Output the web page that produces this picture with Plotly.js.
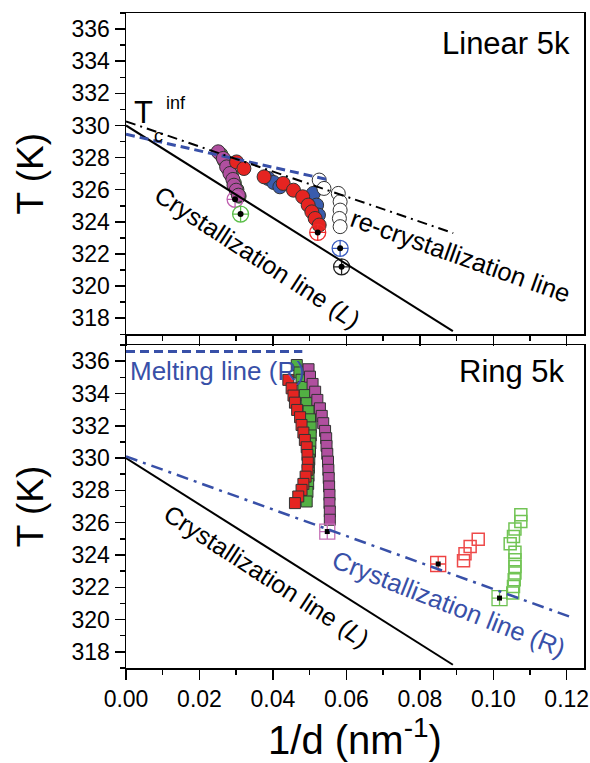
<!DOCTYPE html>
<html>
<head>
<meta charset="utf-8">
<script src="https://cdn.plot.ly/plotly-3.0.1.min.js"></script>
<style>html,body{margin:0;padding:0;background:#fff;}#chart{width:590px;height:763px;}</style>
</head>
<body>
<div id="chart"></div>
<script>
// ---------- Linear 5k (top panel) ----------
const linGreenX = [0.0258, 0.0268, 0.0278, 0.0287, 0.0295, 0.0302, 0.0308];
const linGreenT = [328.2, 327.8, 327.3, 326.9, 326.4, 326.0, 325.6];
const linMagX = [0.0251, 0.0265, 0.0274, 0.0283, 0.0291, 0.0294, 0.0300, 0.0306];
const linMagT = [328.36, 327.95, 327.42, 327.01, 326.64, 326.28, 325.97, 325.66];
const linBlueX = [0.0387, 0.0402, 0.0419, 0.0510, 0.0519, 0.0524];
const linBlueT = [326.70, 326.45, 326.18, 325.77, 325.04, 324.42];
const linRedX = [0.0301, 0.0321, 0.0376, 0.0428, 0.0456, 0.0481, 0.0496, 0.0506, 0.0515, 0.0526];
const linRedT = [327.73, 327.32, 326.80, 326.39, 325.97, 325.56, 325.04, 324.62, 324.21, 323.80];
const linWhiteX = [0.0526, 0.0539, 0.0578, 0.0583, 0.0583, 0.0581, 0.0583];
const linWhiteT = [326.60, 326.08, 325.77, 325.25, 324.73, 324.21, 323.70];
const linEndX = [0.0297, 0.0312, 0.0522, 0.0583, 0.0587];
const linEndT = [325.40, 324.48, 323.34, 322.35, 321.20];
const linEndColors = ['#c060b0', '#5cbf4a', '#ee2a2a', '#3a5cc0', '#222222'];

// ---------- Ring 5k (bottom panel) ----------
const ringGreenX = [0.0465, 0.0472, 0.0478, 0.0483, 0.0487, 0.0492, 0.0497, 0.0501, 0.0503, 0.0503, 0.0502, 0.0501, 0.0499, 0.0498, 0.0497, 0.0496, 0.0494, 0.0492];
const ringGreenT = [335.76, 335.30, 334.85, 334.40, 333.90, 333.40, 332.90, 332.40, 331.90, 331.40, 330.90, 330.40, 329.90, 329.40, 328.90, 328.40, 327.90, 327.31];
const ringRedX = [0.0442, 0.0451, 0.0456, 0.0460, 0.0466, 0.0474, 0.0478, 0.0483, 0.0487, 0.0492, 0.0494, 0.0495, 0.0494, 0.0489, 0.0483, 0.0478, 0.0469, 0.0460];
const ringRedT = [334.84, 334.32, 333.87, 333.43, 332.98, 332.53, 332.05, 331.58, 331.12, 330.67, 330.19, 329.72, 329.27, 328.85, 328.40, 328.03, 327.62, 327.21];
const ringMagX = [0.0497, 0.0501, 0.0508, 0.0515, 0.0521, 0.0528, 0.0533, 0.0537, 0.0542, 0.0545, 0.0546, 0.0548, 0.0550, 0.0551, 0.0552, 0.0553, 0.0554, 0.0554, 0.0555, 0.0555];
const ringMagT = [335.50, 335.04, 334.59, 334.11, 333.60, 333.08, 332.61, 332.16, 331.68, 331.23, 330.75, 330.26, 329.78, 329.27, 328.76, 328.24, 327.72, 327.21, 326.69, 326.18];
const ringRedOpenX = [0.0919, 0.0923, 0.0937, 0.0959];
const ringRedOpenT = [323.64, 324.07, 324.53, 324.98];
const ringGreenOpenX = [0.1053, 0.1055, 0.1057, 0.1059, 0.1059, 0.1059, 0.1059, 0.1046, 0.1055, 0.1059, 0.1075, 0.1075];
const ringGreenOpenT = [321.64, 322.05, 322.47, 322.88, 323.29, 323.70, 324.16, 324.69, 325.14, 325.60, 326.07, 326.49];
const ringEndX = [0.0548, 0.0850, 0.1017];
const ringEndT = [325.45, 323.44, 321.33];
const ringEndColors = ['#c46fb5', '#ee4040', '#6cc050'];

// ---------- Lines ----------
const crystLX = [0, 0.089];
const crystLT = [330.0, 317.2];
const meltLinX = [0, 0.0555];
const meltLinT = [329.45, 326.6];
const recrystX = [0, 0.0891];
const recrystT = [330.25, 323.3];
const meltRingX = [0, 0.048];
const meltRingT = [336.6, 336.6];
const crystRX = [0, 0.1218];
const crystRT = [330.1, 320.1];

const FONT = 'Liberation Sans, Arial, sans-serif';
const LBLUE = '#3850a8';
const OUT = '#333333';

function filled(x, y, color, sym, size, xa, ya) {
  return {x: x, y: y, xaxis: xa, yaxis: ya, type: 'scatter', mode: 'markers', hoverinfo: 'skip',
    marker: {symbol: sym, size: size, color: color, line: {color: OUT, width: 1}}};
}
function openM(x, y, color, sym, size, xa, ya) {
  return {x: x, y: y, xaxis: xa, yaxis: ya, type: 'scatter', mode: 'markers', hoverinfo: 'skip',
    marker: {symbol: sym, size: size, color: color, line: {color: color, width: 1.5}}};
}
function line(x, y, color, width, dash, xa, ya) {
  return {x: x, y: y, xaxis: xa, yaxis: ya, type: 'scatter', mode: 'lines', hoverinfo: 'skip',
    line: {color: color, width: width, dash: dash}};
}

const traces = [
  // top panel markers
  filled(linGreenX, linGreenT, '#5cb848', 'circle', 14, 'x2', 'y2'),
  {x: [linMagX[0], linEndX[0]], y: [linMagT[0], linEndT[0]], xaxis: 'x2', yaxis: 'y2', mode: 'lines', hoverinfo: 'skip', line: {color: '#e04a8a', width: 1}},
  filled(linMagX, linMagT, '#b04f9f', 'circle', 14, 'x2', 'y2'),
  filled(linBlueX, linBlueT, '#3a5cad', 'circle', 14, 'x2', 'y2'),
  filled(linRedX, linRedT, '#e52421', 'circle', 14, 'x2', 'y2'),
  filled(linWhiteX, linWhiteT, '#ffffff', 'circle', 14, 'x2', 'y2'),
  {x: linEndX, y: linEndT, xaxis: 'x2', yaxis: 'y2', mode: 'markers', hoverinfo: 'skip',
    marker: {symbol: 'circle-cross-open', size: 16, color: linEndColors, line: {color: linEndColors, width: 1.3}}},
  {x: linEndX, y: linEndT, xaxis: 'x2', yaxis: 'y2', mode: 'markers', hoverinfo: 'skip',
    marker: {symbol: 'circle', size: 6, color: '#000000'}},
  // top panel lines
  line(crystLX, crystLT, '#000000', 2, 'solid', 'x2', 'y2'),
  line(meltLinX, meltLinT, LBLUE, 3, '9px,5px', 'x2', 'y2'),
  line(recrystX, recrystT, '#000000', 2, '10px,5px,2px,5px', 'x2', 'y2'),

  // bottom panel markers
  filled(ringGreenX, ringGreenT, '#52b043', 'square', 11, 'x', 'y'),
  filled(ringRedX, ringRedT, '#e52421', 'square', 11, 'x', 'y'),
  filled(ringMagX, ringMagT, '#b04f9f', 'square', 11, 'x', 'y'),
  openM(ringRedOpenX, ringRedOpenT, '#ee4a4a', 'square-open', 12, 'x', 'y'),
  openM(ringGreenOpenX, ringGreenOpenT, '#72c455', 'square-open', 12, 'x', 'y'),
  {x: ringEndX, y: ringEndT, xaxis: 'x', yaxis: 'y', mode: 'markers', hoverinfo: 'skip',
    marker: {symbol: 'square-cross-open', size: 15, color: ringEndColors, line: {color: ringEndColors, width: 1.3}}},
  {x: ringEndX, y: ringEndT, xaxis: 'x', yaxis: 'y', mode: 'markers', hoverinfo: 'skip',
    marker: {symbol: 'square', size: 5, color: '#000000'}},
  // bottom panel lines
  line(crystLX, crystLT, '#000000', 2, 'solid', 'x', 'y'),
  line(meltRingX, meltRingT, LBLUE, 3, '9px,5px', 'x', 'y'),
  line(crystRX, crystRT, LBLUE, 2.5, '12px,6px,3px,6px', 'x', 'y')
];

const xCommon = {
  range: [0, 0.1247], dtick: 0.02, tick0: 0, tickformat: '.2f',
  ticks: 'outside', ticklen: 10, tickwidth: 1.5, tickcolor: '#000',
  minor: {dtick: 0.01, ticks: 'outside', ticklen: 5, tickwidth: 1.5, tickcolor: '#000', showgrid: false},
  showline: true, linewidth: 1.5, linecolor: '#000', mirror: true,
  showgrid: false, zeroline: false, fixedrange: true
};
const yCommon = {
  range: [317, 337], dtick: 2, tick0: 318,
  ticks: 'outside', ticklen: 10, tickwidth: 1.5, tickcolor: '#000',
  minor: {dtick: 1, ticks: 'outside', ticklen: 5, tickwidth: 1.5, tickcolor: '#000', showgrid: false},
  showline: true, linewidth: 1.5, linecolor: '#000', mirror: true,
  showgrid: false, zeroline: false, fixedrange: true,
  tickfont: {family: FONT, size: 23, color: '#000'},
  title: {text: 'T (K)', font: {family: FONT, size: 37, color: '#000'}, standoff: 16}
};

const layout = {
  width: 590, height: 763,
  margin: {l: 126, r: 6, t: 13, b: 95},
  paper_bgcolor: '#fff', plot_bgcolor: '#fff',
  showlegend: false,
  font: {family: FONT, color: '#000'},
  xaxis: Object.assign({}, xCommon, {anchor: 'y', domain: [0, 1],
    tickfont: {family: FONT, size: 23, color: '#000'},
    title: {text: '1/d (nm<sup>-1</sup>)', font: {family: FONT, size: 40, color: '#000'}, standoff: 4}}),
  xaxis2: Object.assign({}, xCommon, {anchor: 'y2', domain: [0, 1], matches: 'x', showticklabels: false}),
  yaxis: Object.assign({}, yCommon, {anchor: 'x', domain: [0, 0.4931]}),
  yaxis2: Object.assign({}, yCommon, {anchor: 'x2', domain: [0.5095, 1]}),
  annotations: [
    {text: 'Linear 5k', xref: 'x2', yref: 'y2', x: 0.1214, y: 335.1, xanchor: 'right', yanchor: 'middle', showarrow: false,
      font: {family: FONT, size: 31, color: '#000'}},
    {text: 'Ring 5k', xref: 'x', yref: 'y', x: 0.1201, y: 335.35, xanchor: 'right', yanchor: 'middle', showarrow: false,
      font: {family: FONT, size: 31, color: '#000'}},
    {text: 'T', xref: 'x2', yref: 'y2', x: 0.0047, y: 330.8, showarrow: false, font: {family: FONT, size: 31, color: '#000'}},
    {text: 'c', xref: 'x2', yref: 'y2', x: 0.0089, y: 329.33, showarrow: false, font: {family: FONT, size: 18, color: '#000'}},
    {text: 'inf', xref: 'x2', yref: 'y2', x: 0.0135, y: 331.42, showarrow: false, font: {family: FONT, size: 18, color: '#000'}},
    {text: 'Crystallization line (<i>L</i>)', xref: 'x2', yref: 'y2', x: 0.0358, y: 321.8, textangle: 33, showarrow: false,
      font: {family: FONT, size: 25, color: '#000'}},
    {text: 're-crystallization line', xref: 'x2', yref: 'y2', x: 0.0912, y: 321.87, textangle: 19.5, showarrow: false,
      font: {family: FONT, size: 25.5, color: '#000'}},
    {text: 'Melting line (R)', xref: 'x', yref: 'y', x: 0.0005, y: 335.39, xanchor: 'left', showarrow: false,
      font: {family: FONT, size: 26, color: LBLUE}},
    {text: 'Crystallization line (<i>L</i>)', xref: 'x', yref: 'y', x: 0.0383, y: 322.67, textangle: 33, showarrow: false,
      font: {family: FONT, size: 25, color: '#000'}},
    {text: 'Crystallization line (R)', xref: 'x', yref: 'y', x: 0.088, y: 320.98, textangle: 21.5, showarrow: false,
      font: {family: FONT, size: 25.5, color: LBLUE}}
  ]
};

Plotly.newPlot('chart', traces, layout, {staticPlot: true, displayModeBar: false});
</script>
</body>
</html>
